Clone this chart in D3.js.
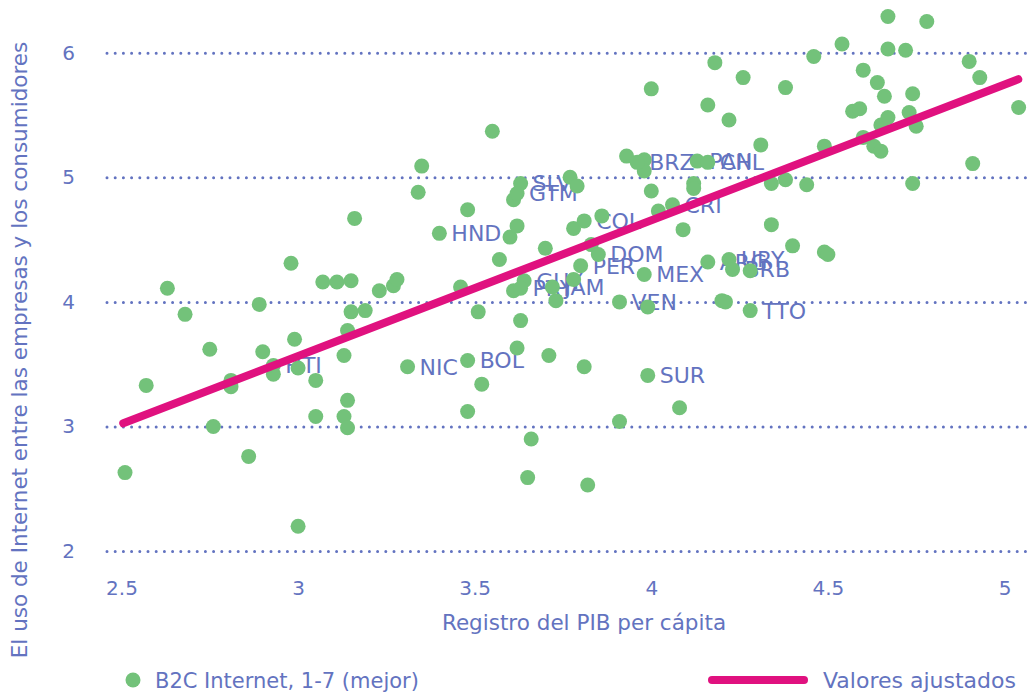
<!DOCTYPE html>
<html>
<head>
<meta charset="utf-8">
<script src="https://cdn.jsdelivr.net/npm/d3@7"></script>
<style>
  body { margin: 0; background: #fff; }
  svg { display: block; font-family: "DejaVu Sans", sans-serif; }
</style>
</head>
<body>
<div id="chart"></div>
<script>
// Log GDP per capita (x) and B2C internet use score (y), unlabeled countries
const otherX = [2.51, 2.57, 2.63, 2.68, 2.75, 2.76, 2.81, 2.81, 2.86, 2.89, 2.90, 2.93, 2.98, 2.99, 3.00, 3.00,
  3.05, 3.05, 3.07, 3.11, 3.13, 3.14, 3.13, 3.14, 3.14, 3.15, 3.15, 3.19, 3.23, 3.27, 3.28, 3.34, 3.35, 3.16,
  3.46, 3.48, 3.48, 3.51, 3.52, 3.55, 3.57, 3.60, 3.62, 3.62, 3.61, 3.63, 3.61, 3.66, 3.65, 3.70, 3.71, 3.73,
  3.77, 3.79, 3.78, 3.78, 3.81, 3.82, 3.83, 3.86, 3.91, 3.93, 3.98, 3.98, 3.99, 4.00, 4.00, 4.02, 4.08, 4.09,
  4.12, 4.12, 4.16, 4.18, 4.20, 4.21, 4.22, 4.26, 4.28, 4.31, 4.34, 4.34, 4.38, 4.38, 4.40, 4.44, 4.46, 4.49,
  4.50, 4.49, 4.54, 4.57, 4.59, 4.60, 4.60, 4.63, 4.64, 4.65, 4.65, 4.66, 4.67, 4.67, 4.67, 4.72, 4.73, 4.74,
  4.74, 4.75, 4.78, 4.90, 4.91, 4.93, 5.04];
const otherY = [2.63, 3.33, 4.11, 3.90, 3.62, 3.00, 3.37, 3.32, 2.76, 3.98, 3.60, 3.42, 4.31, 3.70, 3.47, 2.20,
  3.08, 3.37, 4.16, 4.16, 3.57, 3.21, 3.08, 2.99, 3.77, 3.92, 4.17, 3.93, 4.09, 4.13, 4.18, 4.88, 5.09, 4.67,
  4.12, 3.12, 4.74, 3.92, 3.34, 5.37, 4.34, 4.52, 3.63, 4.61, 4.82, 3.85, 4.09, 2.90, 2.59, 4.43, 3.57, 4.01,
  5.00, 4.93, 4.18, 4.59, 3.48, 2.53, 4.46, 4.69, 3.04, 5.17, 5.14, 5.05, 3.96, 4.89, 5.71, 4.73, 3.15, 4.58,
  4.95, 4.91, 5.58, 5.92, 4.01, 4.00, 5.46, 5.80, 4.25, 5.26, 4.95, 4.62, 5.72, 4.98, 4.45, 4.94, 5.97, 4.40,
  4.38, 5.25, 6.07, 5.53, 5.55, 5.86, 5.32, 5.25, 5.76, 5.21, 5.42, 5.65, 6.03, 6.29, 5.48, 6.02, 5.52, 5.67,
  4.95, 5.41, 6.25, 5.93, 5.11, 5.80, 5.56];

// Labeled Latin American and Caribbean countries
const labelCodes = ['HTI', 'NIC', 'BOL', 'HND', 'SLV', 'GTM', 'GUY', 'PRY', 'JAM', 'PER', 'DOM', 'COL',
  'MEX', 'VEN', 'SUR', 'BRZ', 'PAN', 'CHL', 'CRI', 'ARG', 'URY', 'BRB', 'TTO'];
const labelX = [2.93, 3.31, 3.48, 3.40, 3.63, 3.62, 3.64, 3.63, 3.72, 3.80, 3.85, 3.81,
  3.98, 3.91, 3.99, 3.96, 4.13, 4.16, 4.06, 4.16, 4.22, 4.23, 4.28];
const labelY = [3.49, 3.48, 3.53, 4.55, 4.95, 4.87, 4.17, 4.11, 4.12, 4.29, 4.38, 4.65,
  4.22, 4.00, 3.41, 5.12, 5.13, 5.12, 4.78, 4.32, 4.34, 4.26, 3.93];

// Fitted values line endpoints
const fitX = [2.505, 5.039];
const fitY = [3.026, 5.787];

const xTicks = [2.5, 3, 3.5, 4, 4.5, 5];
const xTickLabels = ['2.5', '3', '3.5', '4', '4.5', '5'];
const yTicks = [2, 3, 4, 5, 6];

const width = 1028;
const height = 695;
const plotLeft = 107;
const plotRight = 1027;

const blue = '#6373c0';
const green = '#73c27a';
const magenta = '#e0117f';
const font = '"DejaVu Sans", sans-serif';

const svg = d3.select('#chart')
  .append('svg')
  .attr('width', width)
  .attr('height', height);

const x = d3.scaleLinear()
  .domain([2.459, 5.0637])
  .range([plotLeft, plotRight]);

const y = d3.scaleLinear()
  .domain([2, 6])
  .range([551.1, 52.7]);

// Y gridlines + labels
const yAxis = svg.append('g')
  .attr('transform', `translate(${plotLeft},0)`)
  .call(d3.axisLeft(y).tickValues(yTicks).tickFormat(d3.format('d'))
    .tickSize(-(plotRight - plotLeft)).tickPadding(32));
yAxis.select('.domain').remove();
yAxis.selectAll('.tick line')
  .attr('stroke', blue)
  .attr('stroke-width', 3)
  .attr('stroke-linecap', 'round')
  .attr('stroke-dasharray', '0 8.2');
yAxis.selectAll('.tick text')
  .attr('fill', blue)
  .style('font-size', '20px')
  .style('font-family', font);

// X axis labels
const xAxis = svg.append('g')
  .attr('transform', 'translate(0,575)')
  .call(d3.axisBottom(x).tickValues(xTicks)
    .tickFormat((d, i) => xTickLabels[i]).tickSize(0).tickPadding(6));
xAxis.select('.domain').remove();
xAxis.selectAll('.tick text')
  .attr('fill', blue)
  .style('font-size', '20px')
  .style('font-family', font);

// Axis titles
svg.append('text')
  .attr('x', 584)
  .attr('y', 630)
  .attr('text-anchor', 'middle')
  .attr('fill', blue)
  .style('font-size', '21.5px')
  .text('Registro del PIB per cápita');

svg.append('text')
  .attr('transform', 'rotate(-90)')
  .attr('x', -350)
  .attr('y', 27)
  .attr('text-anchor', 'middle')
  .attr('fill', blue)
  .style('font-size', '21.5px')
  .text('El uso de Internet entre las empresas y los consumidores');

// Country labels
const labeled = labelCodes.map((c, i) => ({ code: c, x: labelX[i], y: labelY[i] }));
svg.append('g')
  .selectAll('text')
  .data(labeled)
  .enter()
  .append('text')
  .attr('x', d => x(d.x) + 12)
  .attr('y', d => y(d.y))
  .attr('dy', '0.36em')
  .attr('fill', blue)
  .style('font-size', '22px')
  .text(d => d.code);

// Dots
const points = otherX.map((v, i) => ({ x: v, y: otherY[i] }))
  .concat(labeled);
svg.append('g')
  .selectAll('circle')
  .data(points)
  .enter()
  .append('circle')
  .attr('cx', d => x(d.x))
  .attr('cy', d => y(d.y))
  .attr('r', 7.5)
  .attr('fill', green);

// Fitted line
svg.append('path')
  .datum(fitX.map((v, i) => [v, fitY[i]]))
  .attr('fill', 'none')
  .attr('stroke', magenta)
  .attr('stroke-width', 8)
  .attr('stroke-linecap', 'round')
  .attr('d', d3.line().x(d => x(d[0])).y(d => y(d[1])));

// Legend
const legend = svg.append('g').attr('transform', 'translate(0,680)');
legend.append('circle')
  .attr('cx', 133)
  .attr('cy', 0)
  .attr('r', 7.5)
  .attr('fill', green);
legend.append('text')
  .attr('x', 155)
  .attr('y', 0)
  .attr('dy', '0.36em')
  .attr('fill', blue)
  .style('font-size', '21px')
  .text('B2C Internet, 1-7 (mejor)');
legend.append('line')
  .attr('x1', 712)
  .attr('x2', 804)
  .attr('y1', 0)
  .attr('y2', 0)
  .attr('stroke', magenta)
  .attr('stroke-width', 8)
  .attr('stroke-linecap', 'round');
legend.append('text')
  .attr('x', 823)
  .attr('y', 0)
  .attr('dy', '0.36em')
  .attr('fill', blue)
  .style('font-size', '22px')
  .text('Valores ajustados');
</script>
</body>
</html>
